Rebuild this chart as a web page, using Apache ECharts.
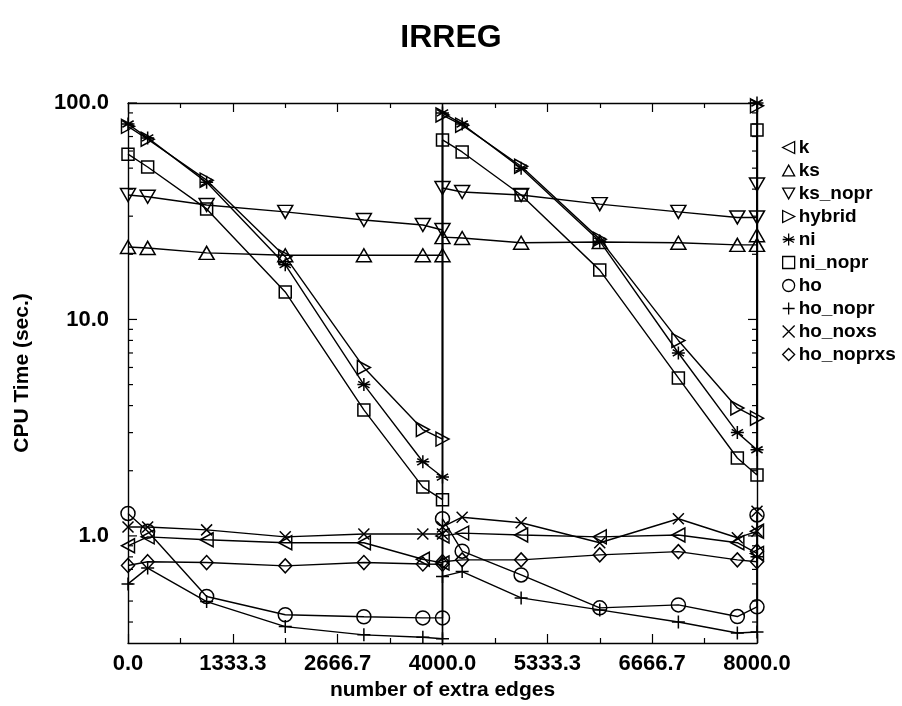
<!DOCTYPE html>
<html><head><meta charset="utf-8">
<script src="https://cdn.jsdelivr.net/npm/echarts@6/dist/echarts.min.js"></script>
<style>html,body{margin:0;padding:0;background:#fff}#c{width:902px;height:706px}</style>
</head><body><div id="c"></div>
<script>
// x positions (number of extra edges); 4000 and 8000 repeat where one panel ends and the next starts
const xVals = [0, 250, 1000, 2000, 3000, 3750, 4000, 4000, 4250, 5000, 6000, 7000, 7750, 8000, 8000];
const xTickLabels = ['0.0', '1333.3', '2666.7', '4000.0', '5333.3', '6666.7', '8000.0'];
const yTickValues = [1, 10, 100];
const seriesNames = ['k', 'ks', 'ks_nopr', 'hybrid', 'ni', 'ni_nopr', 'ho', 'ho_nopr', 'ho_noxs', 'ho_noprxs'];

const kVals        = [0.9, 0.99, 0.96, 0.93, 0.93, 0.78, 0.75, 1.0, 1.03, 1.01, 0.99, 1.01, 0.93, 0.83, 1.05];
const ksVals       = [21.6, 21.4, 20.3, 19.8, 19.8, 19.8, 19.8, 24, 23.8, 22.6, 22.8, 22.6, 22.1, 22.1, 24.5];
const ksNoprVals   = [37.6, 36.9, 33.8, 31.4, 28.8, 27.3, 25.9, 40.5, 38.8, 37.6, 34.1, 31.4, 29.6, 29.6, 42];
const hybridVals   = [78, 68, 44, 19.5, 6.0, 3.1, 2.8, 88, 79, 51, 23.5, 8.0, 3.9, 3.5, 97];
const niVals       = [80, 69, 43, 17.9, 5.0, 2.2, 1.87, 90, 80, 50, 23, 7.0, 3.0, 2.5, 100];
const niNoprVals   = [58, 50.6, 32.4, 13.4, 3.82, 1.68, 1.47, 67.5, 59.4, 37.6, 16.9, 5.37, 2.29, 1.91, 75];
const hoVals       = [1.27, 1.05, 0.525, 0.432, 0.423, 0.418, 0.418, 1.2, 0.85, 0.66, 0.465, 0.48, 0.424, 0.47, 1.25];
const hoNoprVals   = [0.6, 0.71, 0.497, 0.381, 0.349, 0.34, 0.335, 0.65, 0.684, 0.517, 0.455, 0.40, 0.356, 0.36, 0.8];
const hoNoxsVals   = [1.1, 1.10, 1.066, 0.99, 1.02, 1.02, 1.02, 1.1, 1.22, 1.15, 0.93, 1.2, 0.98, 1.05, 1.3];
const hoNoprxsVals = [0.73, 0.76, 0.753, 0.727, 0.753, 0.742, 0.74, 0.76, 0.775, 0.775, 0.817, 0.846, 0.775, 0.76, 0.85];

const allVals = [kVals, ksVals, ksNoprVals, hybridVals, niVals, niNoprVals, hoVals, hoNoprVals, hoNoxsVals, hoNoprxsVals];

const symbols = {
  'k': 'path://M10,0 L0,5 L10,10 Z',
  'ks': 'path://M5,0 L10,9 L0,9 Z',
  'ks_nopr': 'path://M0,0 L10,0 L5,9 Z',
  'hybrid': 'path://M0,0 L10,5 L0,10 Z',
  'ni': 'path://M5,0 L5,10 M0.67,2.5 L9.33,7.5 M9.33,2.5 L0.67,7.5 M0,5 L10,5',
  'ni_nopr': 'path://M0,0 L10,0 L10,10 L0,10 Z',
  'ho': 'circle',
  'ho_nopr': 'path://M5,0 L5,10 M0,5 L10,5',
  'ho_noxs': 'path://M0,0 L10,10 M10,0 L0,10',
  'ho_noprxs': 'diamond'
};
const sizes = {
  'k': [13, 14], 'ks': [15, 13], 'ks_nopr': [15, 13], 'hybrid': [13, 14], 'ni': [13, 13],
  'ni_nopr': [12, 12], 'ho': [14, 14], 'ho_nopr': [13, 13], 'ho_noxs': [11, 11], 'ho_noprxs': [13, 14]
};

const FONT = '"Liberation Sans", Arial, Helvetica, sans-serif';
const yMin = 0.32, yMax = 100;

// minor/major log ticks for left and right frame
const logTicks = [];
for (let e = -1; e <= 2; e++) {
  for (let m = 1; m <= 9; m++) {
    const v = m * Math.pow(10, e);
    if (v >= yMin && v <= yMax + 1e-9) logTicks.push([v, m === 1 ? 1 : 0]);
  }
}

const lineSeries = seriesNames.map((name, i) => ({
  name: name,
  type: 'line',
  xAxisIndex: 0, yAxisIndex: 0,
  data: xVals.map((x, j) => [x, allVals[i][j]]),
  symbol: symbols[name],
  symbolSize: sizes[name],
  showAllSymbol: true,
  lineStyle: { color: '#000', width: 1.4 },
  itemStyle: { color: 'rgba(0,0,0,0)', borderColor: '#000', borderWidth: 1.5 },
  emphasis: { disabled: true },
  z: 3
}));

lineSeries[0].markLine = {
  silent: true, symbol: 'none', label: { show: false },
  lineStyle: { color: '#000', width: 1.4, type: 'solid' },
  data: [{ xAxis: 4000 }]
};

const tickSeries = {
  type: 'custom',
  name: '__ticks',
  xAxisIndex: 0, yAxisIndex: 0,
  silent: true,
  clip: false,
  data: logTicks,
  renderItem: function (params, api) {
    const v = api.value(0), major = api.value(1);
    const len = major ? 9 : 5;
    const pl = api.coord([0, v]);
    const pr = api.coord([8000, v]);
    return {
      type: 'group',
      children: [
        { type: 'line', shape: { x1: pl[0], y1: pl[1], x2: pl[0] + len, y2: pl[1] }, style: { stroke: '#000', lineWidth: 1.2 } },
        { type: 'line', shape: { x1: pr[0], y1: pr[1], x2: pr[0] - len, y2: pr[1] }, style: { stroke: '#000', lineWidth: 1.2 } }
      ]
    };
  }
};

const xAxisCommon = {
  type: 'value', min: 0, max: 8000, interval: 8000 / 6,
  axisLine: { show: true, onZero: false, lineStyle: { color: '#000', width: 1.4 } },
  axisTick: { show: true, inside: true, length: 9, lineStyle: { color: '#000', width: 1.2 } },
  minorTick: { show: true, splitNumber: 2, length: 5, lineStyle: { color: '#000', width: 1.2 } },
  splitLine: { show: false }
};

const chart = echarts.init(document.getElementById('c'), null, { renderer: 'canvas' });
chart.setOption({
  animation: false,
  backgroundColor: '#fff',
  title: {
    text: 'IRREG', left: 'center', top: 17,
    textStyle: { fontFamily: FONT, fontWeight: 'bold', fontSize: 32, color: '#000' }
  },
  grid: { left: 128, right: 145, top: 103, bottom: 63, containLabel: false },
  legend: {
    orient: 'vertical', left: 777, top: 133,
    itemWidth: 12, itemHeight: 12, itemGap: 4,
    data: seriesNames.map(n => ({ name: n, icon: symbols[n] })),
    itemStyle: { color: 'rgba(0,0,0,0)', borderColor: '#000', borderWidth: 1.3 },
    textStyle: { fontFamily: FONT, fontWeight: 'bold', fontSize: 19, color: '#000', padding: [0, 0, 0, -1] },
    selectedMode: false
  },
  xAxis: [
    Object.assign({}, xAxisCommon, {
      position: 'bottom',
      name: 'number of extra edges', nameLocation: 'middle', nameGap: 35,
      nameTextStyle: { fontFamily: FONT, fontWeight: 'bold', fontSize: 21, color: '#000' },
      axisLabel: {
        margin: 10, fontFamily: FONT, fontWeight: 'bold', fontSize: 22, color: '#000',
        formatter: function (v) { return xTickLabels[Math.round(v / (8000 / 6))]; }
      }
    }),
    Object.assign({}, xAxisCommon, { position: 'top', axisLabel: { show: false } })
  ],
  yAxis: [
    {
      type: 'log', logBase: 10, min: yMin, max: yMax, position: 'left',
      name: 'CPU Time (sec.)', nameLocation: 'middle', nameGap: 95, nameRotate: 90,
      nameTextStyle: { fontFamily: FONT, fontWeight: 'bold', fontSize: 21, color: '#000' },
      axisLine: { show: true, onZero: false, lineStyle: { color: '#000', width: 1.4 } },
      axisTick: { show: false },
      splitLine: { show: false },
      axisLabel: {
        margin: 19, fontFamily: FONT, fontWeight: 'bold', fontSize: 22, color: '#000',
        showMinLabel: false,
        formatter: function (v) {
          for (const t of yTickValues) { if (Math.abs(v - t) / t < 1e-6) return t.toFixed(1); }
          return '';
        }
      }
    },
    {
      type: 'log', logBase: 10, min: yMin, max: yMax, position: 'right',
      axisLine: { show: true, onZero: false, lineStyle: { color: '#000', width: 1.4 } },
      axisTick: { show: false }, axisLabel: { show: false }, splitLine: { show: false }
    }
  ],
  series: lineSeries.concat([tickSeries])
});
</script></body></html>
